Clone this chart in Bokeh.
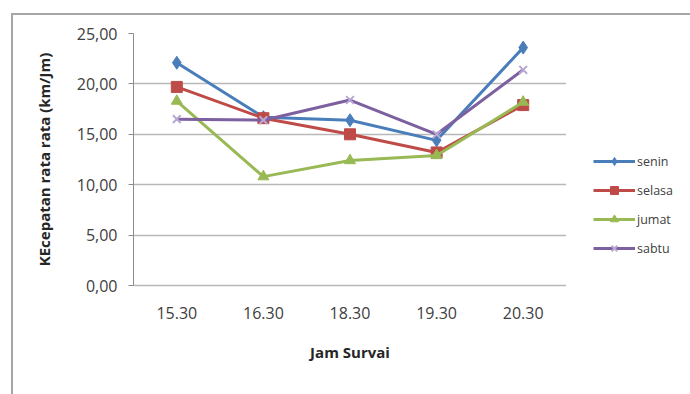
from bokeh.plotting import figure
from bokeh.layouts import row
from bokeh.models import (FactorRange, Range1d, FixedTicker, CustomJSTickFormatter,
                          Legend, LegendItem)
from bokeh.embed import file_html
from bokeh.resources import INLINE

# Survey times and average speeds (km/Jm) per day
jam = ["15.30", "16.30", "18.30", "19.30", "20.30"]
senin = [22.1, 16.7, 16.4, 14.4, 23.6]
selasa = [19.7, 16.6, 15.0, 13.2, 17.9]
jumat = [18.3, 10.8, 12.4, 12.9, 18.2]
sabtu = [16.5, 16.4, 18.4, 15.0, 21.4]
y_ticks = [0, 5, 10, 15, 20, 25]

FONT = "Open Sans"

series = [
    ("senin", senin, "#4a7ebb", "diamond", 13),
    ("selasa", selasa, "#be4b48", "square", 11),
    ("jumat", jumat, "#98b954", "triangle", 11),
    ("sabtu", sabtu, "#7d60a0", "x", 11),
]


def draw_series(fig, xs):
    out = []
    for name, vals, color, marker, size in series:
        ln = fig.line(xs, vals, line_color=color, line_width=3)
        if marker == "x":
            mk = fig.scatter(xs, vals, marker="x", size=size, line_color="#b9a8d4", line_width=2)
        else:
            mk = fig.scatter(xs, vals, marker=marker, size=size, fill_color=color, line_color=color)
        out.append((name, ln, mk))
    return out


# main chart
p = figure(width=553, height=379, x_range=FactorRange(*jam), y_range=Range1d(0, 25),
           output_backend="svg", toolbar_location=None,
           min_border_left=120, min_border_right=0,
           min_border_top=18, min_border_bottom=109)
p.outline_line_color = None
p.background_fill_color = "white"
p.border_fill_color = "white"

p.xgrid.grid_line_color = None
p.ygrid.grid_line_color = "#b8b8b8"
p.ygrid.grid_line_width = 1.5

p.yaxis.ticker = FixedTicker(ticks=y_ticks)
p.yaxis.formatter = CustomJSTickFormatter(code="return tick.toFixed(2).replace('.', ',');")
p.yaxis.axis_label = "KEcepatan rata rata (km/Jm)"
p.yaxis.axis_line_color = "#8c8c8c"
p.yaxis.major_tick_line_color = "#8c8c8c"
p.yaxis.major_tick_out = 5
p.yaxis.major_tick_in = 0
p.yaxis.minor_tick_line_color = None
p.yaxis.major_label_standoff = 11
p.yaxis.axis_label_standoff = 20

p.xaxis.axis_label = "Jam Survai"
p.xaxis.axis_line_color = "#b8b8b8"
p.xaxis.axis_line_width = 1.5
p.xaxis.major_tick_line_color = None
p.xaxis.major_label_standoff = 15
p.xaxis.axis_label_standoff = 20

for ax in (p.xaxis[0], p.yaxis[0]):
    ax.major_label_text_font = FONT
    ax.major_label_text_font_size = "16px"
    ax.major_label_text_color = "#404040"
    ax.axis_label_text_font = FONT
    ax.axis_label_text_font_size = "15px"
    ax.axis_label_text_font_style = "bold"
    ax.axis_label_text_color = "#262626"

draw_series(p, jam)

# legend panel on the right (series drawn off-view so only the legend shows)
lf = figure(width=124, height=379, x_range=Range1d(100, 101), y_range=Range1d(100, 101),
            output_backend="svg", toolbar_location=None,
            x_axis_location=None, y_axis_location=None, min_border=0)
lf.outline_line_color = None
lf.grid.grid_line_color = None
lf.background_fill_color = "white"
lf.border_fill_color = "white"
handles = draw_series(lf, list(range(len(jam))))

legend = Legend(items=[LegendItem(label=n, renderers=[ln, mk]) for n, ln, mk in handles],
                location=(27, 27), orientation="vertical",
                label_text_font=FONT, label_text_font_size="12.5px", label_text_color="#404040",
                glyph_width=42, glyph_height=20, label_standoff=2, spacing=9,
                padding=0, margin=0, border_line_color=None, background_fill_alpha=0)
lf.add_layout(legend, "center")

layout = row(p, lf, spacing=0)
# grey left and top edges of the chart area
layout.styles = {"margin-left": "11px", "margin-top": "13px",
                 "border-left": "2px solid #a6a6a6", "border-top": "2px solid #a6a6a6"}

open("out.html", "w").write(file_html(layout, INLINE))
